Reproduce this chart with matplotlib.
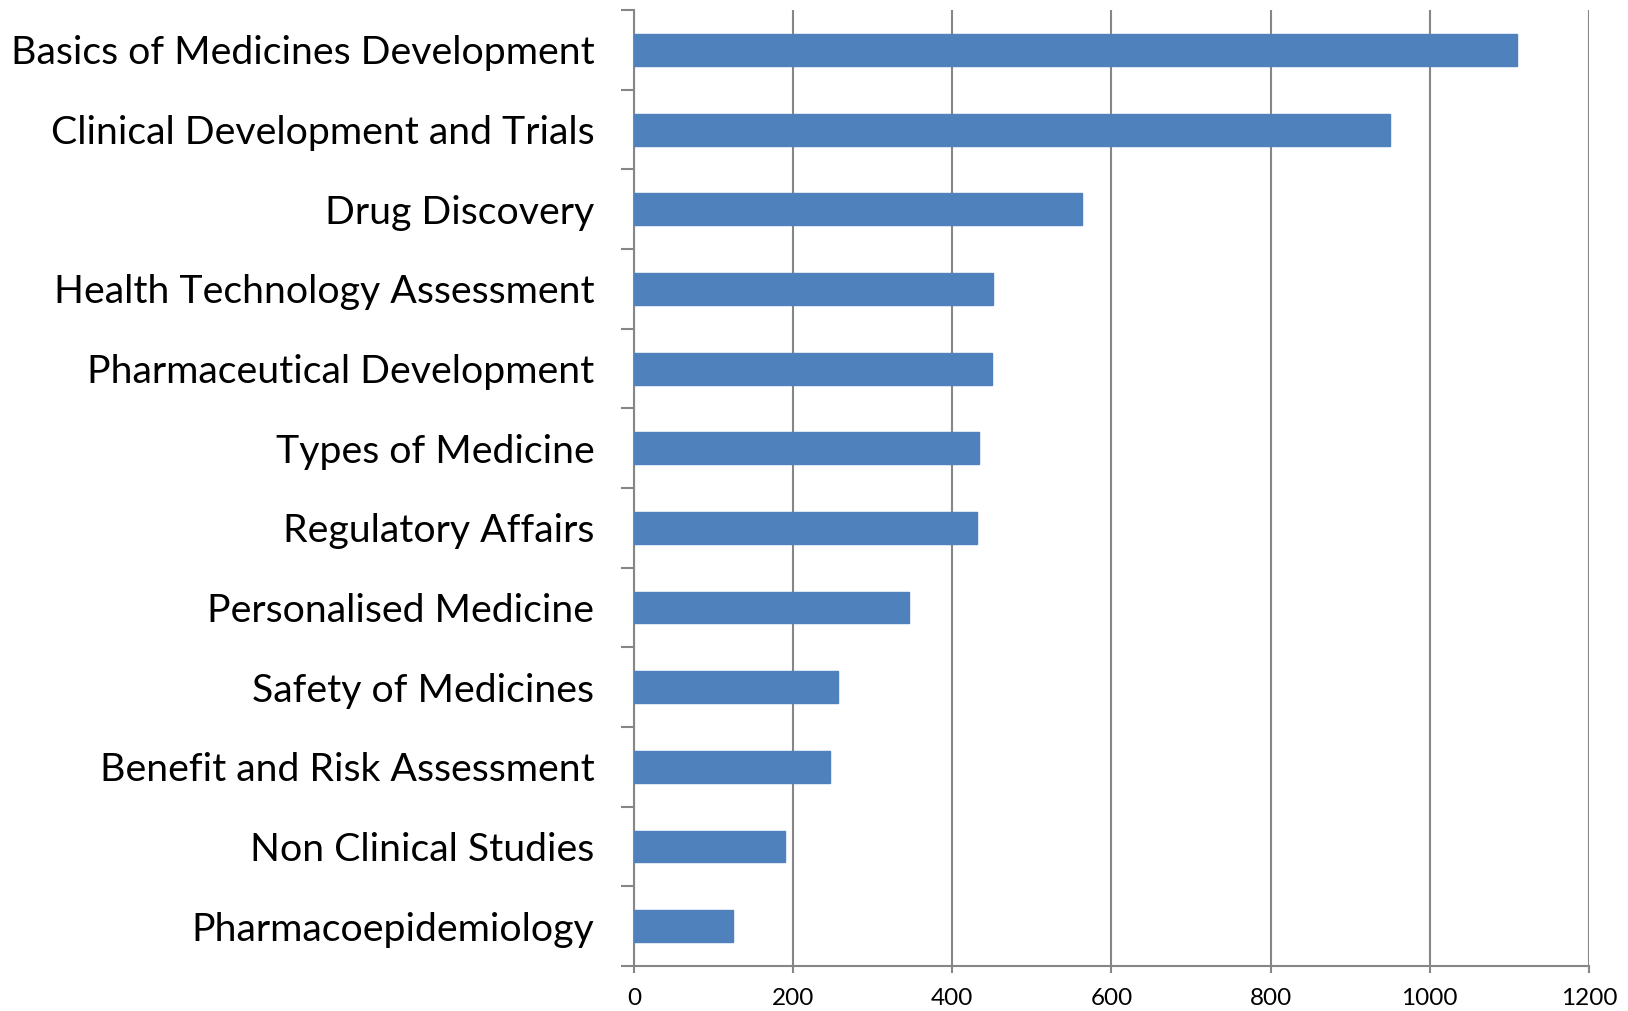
import matplotlib
matplotlib.use("Agg")
import matplotlib.pyplot as plt
import numpy as np

categories = [
    "Basics of Medicines Development",
    "Clinical Development and Trials",
    "Drug Discovery",
    "Health Technology Assessment",
    "Pharmaceutical Development",
    "Types of Medicine",
    "Regulatory Affairs",
    "Personalised Medicine",
    "Safety of Medicines",
    "Benefit and Risk Assessment",
    "Non Clinical Studies",
    "Pharmacoepidemiology",
]
values = [1110, 950, 563, 451, 450, 433, 431, 346, 256, 246, 190, 124]
x_ticks = [0, 200, 400, 600, 800, 1000, 1200]

plt.rcParams["font.family"] = ["Lato", "DejaVu Sans"]
grey = "#868686"

fig = plt.figure(figsize=(16.28, 10.11), dpi=100)
ax = fig.add_axes([0.3894, 0.0445, 0.976 - 0.3894, 0.990 - 0.0445])

n = len(categories)
pos = np.arange(n)[::-1]
ax.barh(pos, values, height=0.4, color="#4F81BD", edgecolor="#4F81BD", zorder=3)

ax.set_xlim(0, 1200)
ax.set_ylim(-0.5, n - 0.5)
ax.set_xticks(x_ticks)
ax.set_xticklabels([str(t) for t in x_ticks])
ax.xaxis.grid(True, color=grey, linewidth=1.5, zorder=0)

# category labels at bar centres, tick marks at the boundaries
ax.set_yticks(pos)
ax.set_yticklabels(categories, fontsize=28.3)
ax.tick_params(axis="y", which="major", length=0, pad=28.5)
ax.set_yticks(np.arange(n + 1) - 0.5, minor=True)
ax.tick_params(axis="y", which="minor", length=9.5, width=1.5, color=grey)
ax.tick_params(axis="x", length=5, width=1.5, color=grey, labelsize=17.5, pad=11)

for s in ["top", "right"]:
    ax.spines[s].set_visible(False)
for s in ["left", "bottom"]:
    ax.spines[s].set_color(grey)
    ax.spines[s].set_linewidth(1.5)

fig.savefig("out.png", dpi=100)
